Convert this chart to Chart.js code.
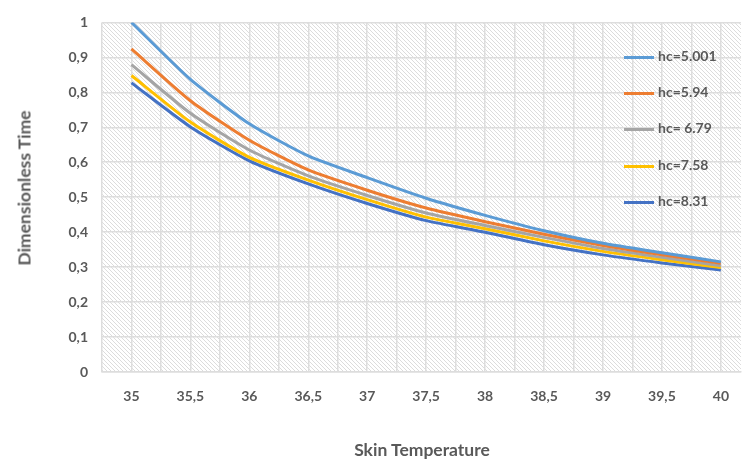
<!DOCTYPE html>
<html>
<head>
<meta charset="utf-8">
<script src="https://cdn.jsdelivr.net/npm/chart.js@4/dist/chart.umd.min.js"></script>
<style>
    html, body { margin: 0; padding: 0; background: #fff; overflow: hidden; }
    #wrap { position: relative; width: 745px; height: 459px; }
    .axis-title { position: absolute; font-family: Lato, sans-serif; font-weight: bold; color: #595959; font-size: 17.5px; white-space: nowrap; }
    #yTitle { left: 24px; top: 188px; transform: translate(-50%, -50%) rotate(-90deg); }
    #xTitle { left: 422px; top: 449px; transform: translate(-50%, -50%); }
    #legend { position: absolute; left: 624px; top: 47px; font-family: Lato, sans-serif; font-weight: bold; font-size: 14px; color: #595959; }
    .legend-item { height: 36.2px; display: flex; align-items: flex-start; }
    .legend-item span.swatch { display: inline-block; width: 30px; height: 3px; margin-top: 9px; margin-right: 4px; }
</style>
</head>
<body>
<div id="wrap">
    <canvas id="chart" width="745" height="459"></canvas>
    <div id="yTitle" class="axis-title">Dimensionless Time</div>
    <div id="xTitle" class="axis-title">Skin Temperature</div>
    <div id="legend"></div>
</div>
<script>
// =====================================================
// DATA
// =====================================================
const temperatures = [35, 35.5, 36, 36.5, 37, 37.5, 38, 38.5, 39, 39.5, 40];

const hc5001 = [1.0, 0.837, 0.710, 0.618, 0.556, 0.497, 0.448, 0.404, 0.368, 0.341, 0.315];
const hc594  = [0.924, 0.776, 0.663, 0.578, 0.520, 0.469, 0.430, 0.394, 0.362, 0.335, 0.311];
const hc679  = [0.879, 0.740, 0.635, 0.561, 0.505, 0.455, 0.419, 0.385, 0.353, 0.328, 0.304];
const hc758  = [0.848, 0.715, 0.614, 0.549, 0.493, 0.443, 0.410, 0.375, 0.345, 0.321, 0.299];
const hc831  = [0.827, 0.701, 0.604, 0.538, 0.482, 0.433, 0.400, 0.364, 0.335, 0.312, 0.292];

const seriesLabels = ['hc=5.001', 'hc=5.94', 'hc= 6.79', 'hc=7.58', 'hc=8.31'];
const seriesValues = [hc5001, hc594, hc679, hc758, hc831];
const seriesColors = ['#5B9BD5', '#ED7D31', '#A5A5A5', '#FFC000', '#4472C4'];

const yTicks = [0, 0.1, 0.2, 0.3, 0.4, 0.5, 0.6, 0.7, 0.8, 0.9, 1];

const TEXT_COLOR = '#595959';
const GRID_COLOR = '#DDDDDD';
const TICK_FONT = { family: 'Lato', weight: 'bold', size: 14 };

// =====================================================
// HELPERS
// =====================================================
const commaNum = v => String(Math.round(v * 100) / 100).replace('.', ',');

// light diagonal hatch used as plot background
function makeHatch() {
    const tile = document.createElement('canvas');
    tile.width = 4;
    tile.height = 4;
    const c = tile.getContext('2d');
    c.fillStyle = '#ffffff';
    c.fillRect(0, 0, 4, 4);
    c.fillStyle = '#DCDCDC';
    for (let i = 0; i < 4; i++) c.fillRect(i, i, 1, 1);
    return c.createPattern(tile, 'repeat');
}

const hatchBackground = {
    id: 'hatchBackground',
    beforeDraw(chart) {
        const { ctx, chartArea } = chart;
        ctx.save();
        ctx.fillStyle = makeHatch();
        ctx.fillRect(chartArea.left, chartArea.top, chartArea.right - chartArea.left, chartArea.bottom - chartArea.top);
        ctx.restore();
    }
};

// =====================================================
// CHART
// =====================================================
const datasets = seriesValues.map((vals, i) => ({
    label: seriesLabels[i],
    data: temperatures.map((t, k) => ({ x: t, y: vals[k] })),
    borderColor: seriesColors[i],
    backgroundColor: seriesColors[i],
    borderWidth: 3,
    pointRadius: 0,
    tension: 0.2,
    fill: false
}));

new Chart(document.getElementById('chart'), {
    type: 'line',
    data: { datasets: datasets },
    plugins: [hatchBackground],
    options: {
        responsive: false,
        animation: false,
        layout: { padding: { top: 21, left: 0, right: 0, bottom: 0 } },
        plugins: {
            legend: { display: false },
            tooltip: { enabled: false }
        },
        scales: {
            x: {
                type: 'linear',
                min: 34.75,
                max: 40.17,
                afterFit: scale => { scale.height = 87; },
                grid: { color: GRID_COLOR, lineWidth: 1.5, drawTicks: false },
                border: { color: GRID_COLOR, width: 1.5 },
                ticks: {
                    stepSize: 0.25,
                    includeBounds: false,
                    autoSkip: false,
                    maxRotation: 0,
                    padding: 16,
                    color: TEXT_COLOR,
                    font: TICK_FONT,
                    callback: v => (temperatures.includes(v) ? commaNum(v) : '')
                }
            },
            y: {
                min: 0,
                max: 1,
                afterFit: scale => { scale.width = 102; },
                grid: { color: GRID_COLOR, lineWidth: 1.5, drawTicks: false },
                border: { display: false },
                afterBuildTicks: scale => { scale.ticks = yTicks.map(v => ({ value: v })); },
                ticks: {
                    padding: 14,
                    color: TEXT_COLOR,
                    font: TICK_FONT,
                    callback: v => commaNum(v)
                }
            }
        }
    }
});

// =====================================================
// LEGEND (inside plot, right side)
// =====================================================
const legend = document.getElementById('legend');
seriesLabels.forEach((label, i) => {
    const item = document.createElement('div');
    item.className = 'legend-item';
    item.innerHTML = `<span class="swatch" style="background:${seriesColors[i]}"></span><span>${label}</span>`;
    legend.appendChild(item);
});
</script>
</body>
</html>
